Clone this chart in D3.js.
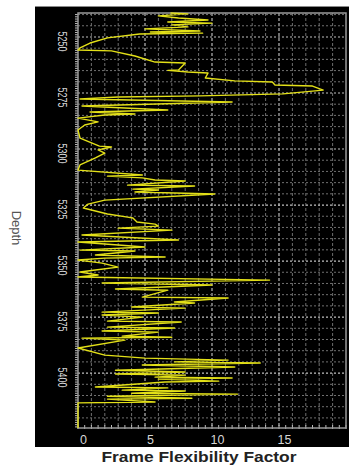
<!DOCTYPE html>
<html>
<head>
<meta charset="utf-8">
<script src="https://cdn.jsdelivr.net/npm/d3@7"></script>
<style>
    body { margin: 0; background: #fff; }
    svg { display: block; }
</style>
</head>
<body>
<div id="chart"></div>
<script>
// depth log (depth in ft, value = frame flexibility factor)
const depth = [
    5239.3, 5239.7, 5240.6, 5241.5, 5242.4, 5243.3, 5243.8, 5244.6, 5245.5, 5246.4,
    5247.3, 5247.8, 5248.3, 5248.7, 5250.4, 5252.7, 5254.9, 5255.8, 5256.2, 5258.5,
    5261.2, 5261.6, 5264.7, 5264.9, 5265.6, 5266.1, 5268.3, 5269.6, 5270.1, 5271.4,
    5271.9, 5273.7, 5274.6, 5275.4, 5276.3, 5276.8, 5277.7, 5279.0, 5280.8, 5282.6,
    5283.5, 5284.4, 5284.8, 5286.2, 5287.9, 5289.3, 5291.5, 5295.1, 5298.7, 5299.1,
    5300.4, 5301.8, 5304.0, 5307.1, 5309.4, 5311.6, 5312.1, 5312.9, 5313.8, 5314.3,
    5316.1, 5316.5, 5317.9, 5318.3, 5319.2, 5320.1, 5322.8, 5324.6, 5326.3, 5329.0,
    5330.4, 5330.8, 5332.6, 5333.5, 5334.4, 5335.3, 5336.2, 5338.4, 5340.6, 5341.5,
    5343.7, 5345.1, 5345.5, 5347.3, 5348.2, 5348.7, 5349.5, 5350.9, 5352.7, 5354.0,
    5354.9, 5356.2, 5357.1, 5358.5, 5359.8, 5360.7, 5362.5, 5363.0, 5366.1, 5366.5,
    5368.3, 5368.7, 5370.5, 5371.0, 5372.8, 5373.2, 5374.1, 5375.0, 5376.8, 5377.2,
    5379.5, 5379.9, 5381.2, 5381.7, 5383.5, 5384.0, 5384.4, 5385.3, 5388.8, 5392.0,
    5393.3, 5394.2, 5395.0, 5395.5, 5396.4, 5397.3, 5398.7, 5399.5, 5400.4, 5400.9,
    5401.8, 5402.2, 5402.7, 5403.6, 5404.0, 5406.2, 5406.6, 5407.6, 5408.0, 5409.0,
    5409.4, 5410.3, 5411.2, 5411.6, 5412.9, 5413.3, 5424.5
];
const flex = [
    6.9, 8.2, 6.0, 7.5, 9.7, 6.7, 10.0, 7.0, 8.2, 5.0,
    9.1, 5.4, 9.3, 4.6, 2.2, 0.9, 0.15, 0, 2.5, 4.25,
    5.75, 8.0, 7.5, 6.7, 8.2, 9.7, 9.5, 11.7, 14.5, 14.7,
    17.5, 18.3, 16.7, 15.3, 9.1, 3.0, 0.15, 11.5, 0.3, 6.7,
    0.9, 4.25, 2.0, 0, 1.5, 0.5, 0, 0.15, 1.6, 2.5,
    1.5, 2.0, 1.3, 0.15, 0, 4.8, 2.2, 4.8, 5.75, 8.0,
    3.7, 8.7, 4.1, 6.0, 4.25, 10.2, 2.0, 0.75, 0.4, 2.2,
    3.7, 4.1, 4.4, 5.75, 6.0, 3.0, 7.0, 0.3, 7.5, 0,
    5.0, 0.15, 4.25, 1.3, 6.5, 2.0, 0, 1.8, 3.0, 1.3,
    0.15, 1.5, 0, 14.3, 1.8, 10.0, 2.8, 6.7, 4.8, 11.2,
    7.2, 8.7, 4.0, 8.0, 1.8, 6.0, 1.8, 4.8, 2.2, 7.7,
    2.2, 7.2, 1.8, 6.0, 3.3, 7.0, 0.3, 3.5, 0, 2.0,
    5.0, 11.2, 7.2, 13.6, 4.8, 11.7, 2.8, 8.0, 2.8, 8.0,
    5.75, 11.5, 6.0, 10.5, 6.5, 1.3, 6.7, 3.3, 8.0, 4.0,
    11.9, 2.2, 8.5, 2.2, 5.75, 0, 0
];
const xTicks = [0, 5, 10, 15];
const yTicks = [5250, 5275, 5300, 5325, 5350, 5375, 5400];

const W = 349, H = 466;
const plot = { left: 78, right: 346, top: 13, bottom: 428 };

const svg = d3.select('#chart').append('svg').attr('width', W).attr('height', H);

// black panel
svg.append('rect').attr('x', 35).attr('y', 6).attr('width', W - 35).attr('height', 441).attr('fill', '#000');
svg.append('line').attr('x1', 35).attr('x2', W).attr('y1', 6.5).attr('y2', 6.5).attr('stroke', '#8a8a8a');

const x = d3.scaleLinear().domain([0, 20]).range([plot.left, plot.right]);
const y = d3.scaleLinear().domain([5239.3, 5424.5]).range([plot.top, plot.bottom]);

// grid
const grid = svg.append('g');
grid.selectAll('.vg').data(d3.range(1, 20)).join('line')
    .attr('x1', (d) => x(d)).attr('x2', (d) => x(d))
    .attr('y1', plot.top).attr('y2', plot.bottom)
    .attr('stroke', (d) => (d % 5 === 0 ? '#b8b8b8' : '#6e6e6e'))
    .attr('stroke-width', (d) => (d % 5 === 0 ? 1.2 : 1))
    .attr('stroke-dasharray', '3,2');
grid.selectAll('.hg').data(d3.range(5240, 5425, 5)).join('line')
    .attr('x1', plot.left).attr('x2', plot.right)
    .attr('y1', (d) => y(d)).attr('y2', (d) => y(d))
    .attr('stroke', (d) => (d % 25 === 0 ? '#c0c0c0' : '#707070'))
    .attr('stroke-width', (d) => (d % 25 === 0 ? 1.2 : 1))
    .attr('stroke-dasharray', '2,2');

// minor ticks
svg.append('g').selectAll('line').data(d3.range(5240, 5425, 1)).join('line')
    .attr('x1', plot.left - 3).attr('x2', plot.left)
    .attr('y1', (d) => y(d)).attr('y2', (d) => y(d))
    .attr('stroke', '#bbb');
svg.append('g').selectAll('line').data(d3.range(0, 20.01, 0.5)).join('line')
    .attr('x1', (d) => x(d)).attr('x2', (d) => x(d))
    .attr('y1', plot.bottom - 3).attr('y2', plot.bottom + 1)
    .attr('stroke', '#bbb');

// plot frame
svg.append('rect')
    .attr('x', plot.left).attr('y', plot.top)
    .attr('width', plot.right - plot.left).attr('height', plot.bottom - plot.top)
    .attr('fill', 'none').attr('stroke', '#9a9a9a').attr('stroke-width', 1.5);

// the log curve
const points = depth.map((d, i) => ({ depth: d, value: flex[i] }));
const line = d3.line().x((d) => x(d.value)).y((d) => y(d.depth));
svg.append('path').datum(points)
    .attr('d', line)
    .attr('fill', 'none')
    .attr('stroke', '#e3e018')
    .attr('stroke-width', 1.4)
    .attr('stroke-linejoin', 'round');

// axes (labels only)
const yAxis = d3.axisLeft(y).tickValues(yTicks).tickSize(0).tickFormat(d3.format('d'));
const gy = svg.append('g').attr('transform', `translate(${plot.left},0)`).call(yAxis);
gy.select('.domain').remove();
gy.selectAll('text')
    .attr('transform', 'rotate(90)')
    .attr('x', 4).attr('y', 20).attr('dy', 0)
    .attr('text-anchor', 'middle')
    .attr('fill', '#d6d6d6')
    .attr('font-family', 'Liberation Sans, Arial, sans-serif')
    .attr('font-size', 12)
    .attr('textLength', 20)
    .attr('lengthAdjust', 'spacingAndGlyphs');

const xAxis = d3.axisBottom(x).tickValues(xTicks).tickSize(0);
const gx = svg.append('g').attr('transform', `translate(0,${plot.bottom})`).call(xAxis);
gx.select('.domain').remove();
gx.selectAll('text')
    .attr('y', 7).attr('dx', 5)
    .attr('fill', '#d6d6d6')
    .attr('font-family', 'Liberation Sans, Arial, sans-serif')
    .attr('font-size', 12.5);

// titles
svg.append('text')
    .attr('transform', 'translate(12,228) rotate(90)')
    .attr('text-anchor', 'middle')
    .attr('fill', '#555')
    .attr('font-family', 'Liberation Sans, Arial, sans-serif')
    .attr('font-size', 13)
    .text('Depth');

svg.append('text')
    .attr('x', 199).attr('y', 462)
    .attr('text-anchor', 'middle')
    .attr('fill', '#222')
    .attr('font-family', 'Liberation Sans, Arial, sans-serif')
    .attr('font-weight', 'bold')
    .attr('font-size', 14.5)
    .attr('textLength', 195)
    .attr('lengthAdjust', 'spacingAndGlyphs')
    .text('Frame Flexibility Factor');
</script>
</body>
</html>
